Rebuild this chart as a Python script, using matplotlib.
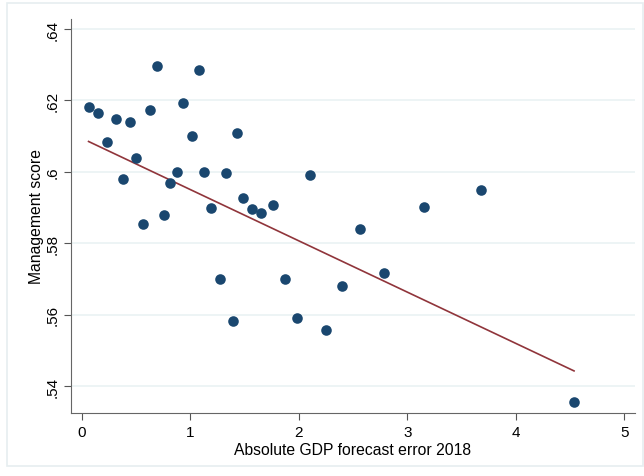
import numpy as np
import matplotlib.pyplot as plt
from matplotlib.patches import Rectangle

# forecast error (x) vs management score (y)
gdp_error = np.array([0.062, 0.148, 0.231, 0.314, 0.440, 0.501, 0.379, 0.563, 0.630,
                      0.695, 0.753, 0.815, 0.879, 0.934, 1.011, 1.082, 1.125, 1.195,
                      1.331, 1.432, 1.490, 1.573, 1.656, 1.761, 2.105, 2.566, 1.278,
                      1.393, 1.872, 1.982, 2.250, 2.400, 3.156, 3.678, 2.790, 4.538])
mgmt_score = np.array([0.6183, 0.6165, 0.6084, 0.6149, 0.6141, 0.6039, 0.5979, 0.5853, 0.6173,
                       0.6297, 0.5880, 0.5969, 0.6001, 0.6194, 0.6101, 0.6285, 0.6001, 0.5899,
                       0.5998, 0.6109, 0.5927, 0.5896, 0.5884, 0.5906, 0.5992, 0.5840, 0.5699,
                       0.5582, 0.5700, 0.5592, 0.5556, 0.5680, 0.5901, 0.5949, 0.5718, 0.5357])
# fitted line
fit_intercept = 0.6094
fit_slope = -0.01435
x_ticks = [0, 1, 2, 3, 4, 5]
y_ticks = [0.54, 0.56, 0.58, 0.60, 0.62, 0.64]
y_labels = ['.54', '.56', '.58', '.6', '.62', '.64']

plt.rcParams['font.family'] = ['Liberation Sans', 'DejaVu Sans']

fig = plt.figure(figsize=(6.44, 4.77), dpi=100)
fig.patches.append(Rectangle((7 / 644, 10 / 477), 636 / 644, 463 / 477,
                             transform=fig.transFigure, fill=False,
                             edgecolor='#e6eef0', linewidth=1.2))
ax = fig.add_axes([71 / 644, 63 / 477, 564 / 644, 394 / 477])

xf = np.array([gdp_error.min(), gdp_error.max()])
ax.plot(xf, fit_intercept + fit_slope * xf, color='#90353b', linewidth=1.2, zorder=2)
ax.scatter(gdp_error, mgmt_score, s=58, color='#1a476f', zorder=3, linewidths=0)

ax.set_xlim(-0.1, 5.1)
ax.set_ylim(0.5325, 0.6428)
ax.set_xticks(x_ticks)
ax.set_yticks(y_ticks)
ax.set_yticklabels(y_labels, rotation=90, va='center')
ax.tick_params(labelsize=11, color='#555555', length=5)
ax.grid(axis='y', color='#eaf2f3', linewidth=1.2)
ax.set_axisbelow(True)
for side in ['top', 'right']:
    ax.spines[side].set_visible(False)
for side in ['left', 'bottom']:
    ax.spines[side].set_color('#666666')

ax.set_xlabel('Absolute GDP forecast error 2018', fontsize=11.3, labelpad=2)
ax.set_ylabel('Management score', fontsize=11.3, labelpad=1)

fig.savefig('out.png', dpi=100)
